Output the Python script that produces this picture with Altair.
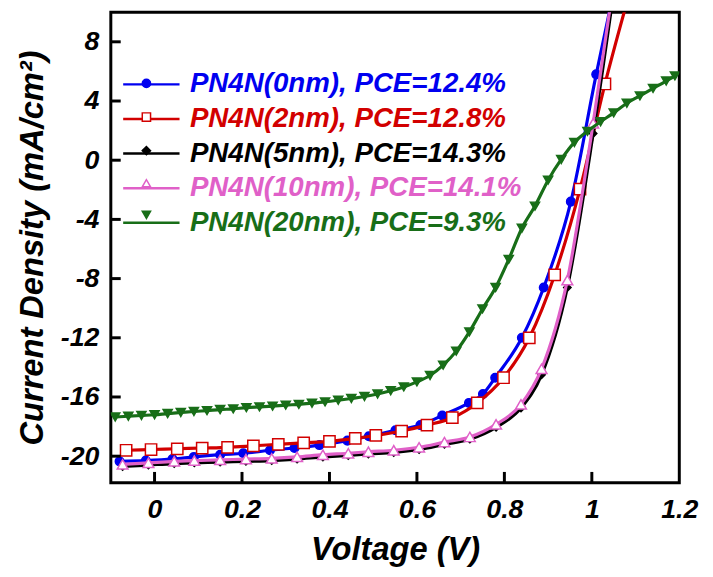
import altair as alt
import pandas as pd

names = ["PN4N(0nm), PCE=12.4%", "PN4N(2nm), PCE=12.8%", "PN4N(5nm), PCE=14.3%",
         "PN4N(10nm), PCE=14.1%", "PN4N(20nm), PCE=9.3%"]
colors = ["#0000F0", "#D20000", "#000000", "#E060C8", "#186E18"]
fills = ["#0000F0", "#FFFFFF", "#000000", "#FFFFFF", "#186E18"]
shapes = ["circle", "square", "diamond", "triangle-up", "triangle-down"]
msizes = [75, 130, 55, 120, 85]

# PN4N(0nm)
v0 = [-0.080, -0.020, 0.041, 0.090, 0.150, 0.203, 0.264, 0.320, 0.377, 0.441, 0.490,
      0.551, 0.608, 0.658, 0.719, 0.751, 0.779, 0.840, 0.890, 0.952, 1.010, 1.065]
j0 = [-20.35, -20.3, -20.2, -20.05, -19.9, -19.8, -19.6, -19.45, -19.25, -18.95, -18.65,
      -18.25, -17.9, -17.25, -16.4, -15.8, -14.7, -12.0, -8.6, -2.8, 5.8, 13.5]
# PN4N(2nm)
v1 = [-0.065, -0.008, 0.052, 0.109, 0.167, 0.226, 0.283, 0.341, 0.400, 0.459, 0.506,
      0.565, 0.623, 0.681, 0.738, 0.798, 0.857, 0.915, 0.973, 1.030, 1.088]
j1 = [-19.6, -19.55, -19.5, -19.45, -19.4, -19.3, -19.2, -19.1, -19.0, -18.8, -18.6,
      -18.3, -17.9, -17.4, -16.4, -14.7, -12.0, -7.75, -1.95, 5.15, 11.5]
# PN4N(5nm)
v2 = [-0.073, -0.014, 0.045, 0.091, 0.150, 0.209, 0.268, 0.326, 0.385, 0.443, 0.489,
      0.547, 0.605, 0.663, 0.721, 0.781, 0.838, 0.885, 0.944, 1.003, 1.060]
j2 = [-20.7, -20.6, -20.5, -20.45, -20.4, -20.35, -20.3, -20.2, -20.05, -19.95, -19.85,
      -19.75, -19.55, -19.2, -18.85, -18.05, -16.75, -14.5, -8.6, 1.8, 13.5]
# PN4N(10nm)
v3 = [-0.073, -0.014, 0.045, 0.091, 0.150, 0.209, 0.268, 0.326, 0.385, 0.443, 0.489,
      0.547, 0.605, 0.663, 0.721, 0.781, 0.838, 0.885, 0.944, 1.003, 1.060]
j3 = [-20.55, -20.45, -20.35, -20.3, -20.25, -20.2, -20.15, -20.05, -19.9, -19.8, -19.7,
      -19.6, -19.4, -19.05, -18.7, -17.85, -16.5, -14.1, -8.1, 2.5, 14.0]
# PN4N(20nm)
v4 = [-0.09, -0.06, -0.03, 0.00, 0.03, 0.06, 0.09, 0.12, 0.15, 0.18, 0.21, 0.24, 0.27,
      0.30, 0.33, 0.36, 0.39, 0.42, 0.45, 0.48, 0.51, 0.54, 0.57, 0.60, 0.63, 0.66, 0.69,
      0.72, 0.75, 0.78, 0.81, 0.84, 0.87, 0.90, 0.93, 0.96, 0.99, 1.02, 1.05, 1.08, 1.11,
      1.14, 1.17, 1.19]
j4 = [-17.35, -17.3, -17.25, -17.2, -17.12, -17.05, -16.98, -16.92, -16.85, -16.8, -16.72,
      -16.67, -16.62, -16.55, -16.5, -16.42, -16.33, -16.22, -16.1, -15.97, -15.8, -15.58,
      -15.32, -14.98, -14.55, -13.85, -12.9, -11.6, -10.05, -8.6, -6.7, -4.6, -3.1, -1.35,
      0.05, 1.2, 1.95, 2.6, 3.2, 3.85, 4.35, 4.85, 5.35, 5.7]

x_ticks = [0, 0.2, 0.4, 0.6, 0.8, 1, 1.2]
y_ticks = [8, 4, 0, -4, -8, -12, -16, -20]

# marker keys differ from line keys so that the two legends stay separate
mk_names = [n + " " for n in names]

vs = [v0, v1, v2, v3, v4]
js = [j0, j1, j2, j3, j4]
rows = []
for k, nm in enumerate(names):
    for v, j in zip(vs[k], js[k]):
        rows.append({"V": v, "J": j, "series": nm, "s2": mk_names[k]})
df = pd.DataFrame(rows)

FONT = "Liberation Sans"
W, H = 575, 476

xscale = alt.Scale(domain=[-0.1, 1.2], nice=False, zero=False)
yscale = alt.Scale(domain=[-21.8, 10], nice=False, zero=False)

X = alt.X("V:Q", scale=xscale, title="Voltage (V)",
          axis=alt.Axis(values=x_ticks, labelExpr="datum.value + ''", labelFlush=False,
                        labelOverlap=False, labelPadding=14, titlePadding=12))
Y = alt.Y("J:Q", scale=yscale, title="Current Density (mA/cm²)",
          axis=alt.Axis(values=y_ticks, labelExpr="datum.value + ''", labelFlush=False,
                        labelOverlap=False, labelPadding=12, titlePadding=11))

line_legend = alt.Legend(orient="none", legendX=11, legendY=59, direction="vertical",
                         title=None, symbolType="stroke", symbolSize=3249,
                         symbolStrokeWidth=2.5, labelFont=FONT, labelFontSize=28,
                         labelFontWeight="bold", labelFontStyle="italic",
                         labelColor=alt.ExprRef(expr="scale('color', datum.value)"),
                         labelOffset=9, labelLimit=600, clipHeight=28, rowPadding=7,
                         padding=0)
pt_legend = alt.Legend(orient="none", legendX=31, legendY=67, direction="vertical",
                       title=None, symbolSize=70, symbolStrokeWidth=1.5,
                       labelFontSize=1, labelExpr="''", labelOffset=0,
                       rowPadding=18, padding=0)

color_enc = alt.Color("series:N", scale=alt.Scale(domain=names, range=colors), legend=line_legend)
shape_enc = alt.Shape("s2:N", scale=alt.Scale(domain=mk_names, range=shapes), legend=pt_legend)
fill_enc = alt.Fill("s2:N", scale=alt.Scale(domain=mk_names, range=fills), legend=pt_legend)
stroke_enc = alt.Stroke("s2:N", scale=alt.Scale(domain=mk_names, range=colors), legend=pt_legend)

base = alt.Chart(df)
layers = []
for k, nm in enumerate(names):
    sub = base.transform_filter(alt.datum.series == nm)
    layers.append(sub.mark_line(strokeWidth=3.2, clip=True, interpolate="monotone")
                  .encode(x=X, y=Y, color=color_enc))
    layers.append(sub.mark_point(size=msizes[k], strokeWidth=1.5, opacity=1, fillOpacity=1,
                                 clip=True)
                  .encode(x=X, y=Y, shape=shape_enc, fill=fill_enc, stroke=stroke_enc))

yt = alt.Chart(pd.DataFrame({"J": y_ticks})).mark_rule(color="black", strokeWidth=3).encode(
    y=Y, x=alt.value(0), x2=alt.value(10))
xt = alt.Chart(pd.DataFrame({"V": x_ticks[:-1]})).mark_rule(color="black", strokeWidth=3).encode(
    x=X, y=alt.value(H), y2=alt.value(H - 11))

chart = alt.layer(*layers, yt, xt).properties(
    width=W, height=H,
    autosize=alt.AutoSizeParams(type="none"),
    padding={"left": 104, "top": 1, "right": 26, "bottom": 92},
).configure_view(stroke="black", strokeWidth=3).configure_axis(
    domain=False, ticks=False, grid=False,
    labelFont=FONT, labelFontSize=27, labelFontWeight="bold", labelFontStyle="italic",
    labelColor="black", titleFont=FONT, titleFontSize=33, titleFontWeight="bold",
    titleFontStyle="italic", titleColor="black",
)

chart.save("out.html", embed_options={"renderer": "svg", "actions": False})
